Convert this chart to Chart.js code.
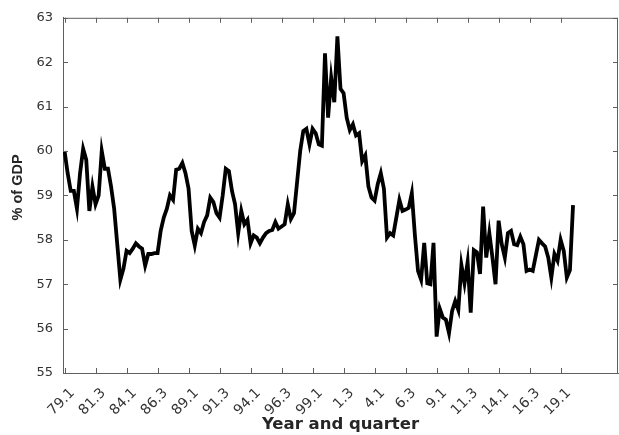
<!DOCTYPE html>
<html>
<head>
<meta charset="utf-8">
<script src="https://cdn.jsdelivr.net/npm/chart.js@4.4.1/dist/chart.umd.min.js"></script>
<style>
  html, body { margin: 0; padding: 0; background: #ffffff; }
  #wrap { width: 619px; height: 435px; }
</style>
</head>
<body>
<div id="wrap"><canvas id="c"></canvas></div>
<script>
// Quarterly values (% of GDP), 1979Q1 .. 2020Q1
const quarterValues = [
  60.0, 59.5, 59.1, 59.1, 58.7, 59.5, 60.05, 59.8, 58.65, 59.2,
  58.8, 59.0, 60.0, 59.6, 59.6, 59.2, 58.7, 57.9, 57.1, 57.35,
  57.75, 57.7, 57.8, 57.92, 57.85, 57.8, 57.42, 57.68, 57.68, 57.7,
  57.7, 58.2, 58.5, 58.7, 59.0, 58.9, 59.58, 59.6, 59.73, 59.5,
  59.15, 58.2, 57.87, 58.25, 58.15, 58.4, 58.55, 58.95, 58.85, 58.6,
  58.5, 59.0, 59.6, 59.55, 59.1, 58.8, 58.15, 58.65, 58.35, 58.45,
  57.92, 58.1, 58.05, 57.92, 58.05, 58.15, 58.2, 58.22, 58.4, 58.25,
  58.3, 58.35, 58.8, 58.47, 58.6, 59.3, 60.0, 60.45, 60.5, 60.15,
  60.5, 60.4, 60.15, 60.12, 62.2, 60.75, 61.65, 61.1, 62.58, 61.4,
  61.3, 60.75, 60.47, 60.6, 60.35, 60.4, 59.77, 59.9, 59.2, 58.95,
  58.88, 59.25, 59.5, 59.15, 58.05, 58.15, 58.1, 58.5, 58.9, 58.65,
  58.68, 58.72, 59.05, 58.1, 57.3, 57.1, 57.93, 57.02, 57.0, 57.93,
  55.82, 56.45, 56.25, 56.2, 55.9, 56.4, 56.62, 56.42, 57.43, 57.02,
  57.5, 56.36, 57.77, 57.72, 57.23, 58.75, 57.6, 58.15, 57.6, 57.0,
  58.43, 57.9, 57.6, 58.15, 58.2, 57.9, 57.88, 58.07, 57.9, 57.3,
  57.33, 57.3, 57.65, 58.0, 57.92, 57.85, 57.6, 57.15, 57.68, 57.53,
  58.0, 57.75, 57.15, 57.32, 58.78
];
// Tick labels (year.quarter) and the quarter index each one sits at
const tickLabels = ['79.1','81.3','84.1','86.3','89.1','91.3','94.1','96.3','99.1',
                    '1.3','4.1','6.3','9.1','11.3','14.1','16.3','19.1'];
const tickIndices = [0,10,20,30,40,50,60,70,80,90,100,110,120,130,140,150,160];
const yTicks = [55,56,57,58,59,60,61,62,63];
const yTitle = '% of GDP';
const xTitle = 'Year and quarter';

const AXIS_COLOR = '#5f5f5f';
const TEXT_COLOR = '#333333';

const boxTicks = {
  id: 'boxTicks',
  afterDraw(chart) {
    const {ctx, chartArea: a, scales} = chart;
    const L = 5;
    ctx.save();
    ctx.strokeStyle = AXIS_COLOR;
    ctx.lineWidth = 1;
    ctx.beginPath();
    ctx.moveTo(a.left, a.top + 0.5); ctx.lineTo(a.right, a.top + 0.5);
    ctx.moveTo(a.right - 0.5, a.top); ctx.lineTo(a.right - 0.5, a.bottom);
    tickIndices.forEach(v => {
      const px = Math.round(scales.x.getPixelForValue(v)) + 0.5;
      ctx.moveTo(px, a.bottom); ctx.lineTo(px, a.bottom - L);
      ctx.moveTo(px, a.top); ctx.lineTo(px, a.top + L);
    });
    yTicks.forEach(v => {
      const py = Math.round(scales.y.getPixelForValue(v)) + 0.5;
      ctx.moveTo(a.left, py); ctx.lineTo(a.left + L, py);
      ctx.moveTo(a.right, py); ctx.lineTo(a.right - L, py);
    });
    ctx.stroke();
    // y axis title, placed like the reference (slightly above centre)
    ctx.fillStyle = '#262626';
    ctx.font = 'bold 14.5px "Liberation Sans", Arial, sans-serif';
    ctx.textAlign = 'center';
    ctx.textBaseline = 'middle';
    ctx.translate(18, (a.top + a.bottom) / 2 - 8);
    ctx.rotate(-Math.PI / 2);
    ctx.fillText(yTitle, 0, 0);
    ctx.restore();
  }
};

new Chart(document.getElementById('c'), {
  type: 'line',
  data: {
    datasets: [{
      data: quarterValues.map((v, i) => ({x: i, y: v})),
      borderColor: '#000000',
      borderWidth: 3.8,
      pointRadius: 0,
      tension: 0,
      fill: false
    }]
  },
  options: {
    responsive: true,
    maintainAspectRatio: false,
    animation: false,
    layout: { padding: { top: 16, right: 1, left: 0, bottom: 0 } },
    plugins: { legend: { display: false }, tooltip: { enabled: false } },
    scales: {
      x: {
        type: 'linear',
        min: -0.5,
        max: 178.5,
        afterFit(s) { s.height = 62; },
        afterBuildTicks(s) { s.ticks = tickIndices.map(v => ({value: v})); },
        grid: { display: false, drawTicks: false },
        border: { display: true, color: AXIS_COLOR, width: 1 },
        ticks: {
          autoSkip: false,
          maxRotation: 45,
          minRotation: 45,
          padding: 12,
          labelOffset: 8,
          color: TEXT_COLOR,
          font: { family: 'DejaVu Sans', size: 14 },
          callback: (v) => tickLabels[tickIndices.indexOf(v)]
        },
        title: {
          display: true,
          text: xTitle,
          color: '#262626',
          font: { family: 'DejaVu Sans', size: 16.5, weight: 'bold' },
          padding: { top: 0, bottom: 0 }
        }
      },
      y: {
        min: 55,
        max: 63,
        afterFit(s) { s.width = 63; },
        afterBuildTicks(s) { s.ticks = yTicks.map(v => ({value: v})); },
        grid: { display: false, drawTicks: false },
        border: { display: true, color: AXIS_COLOR, width: 1 },
        ticks: {
          padding: 10,
          color: TEXT_COLOR,
          font: { family: 'DejaVu Sans', size: 13 }
        },
        title: { display: false }
      }
    }
  },
  plugins: [boxTicks]
});
</script>
</body>
</html>
